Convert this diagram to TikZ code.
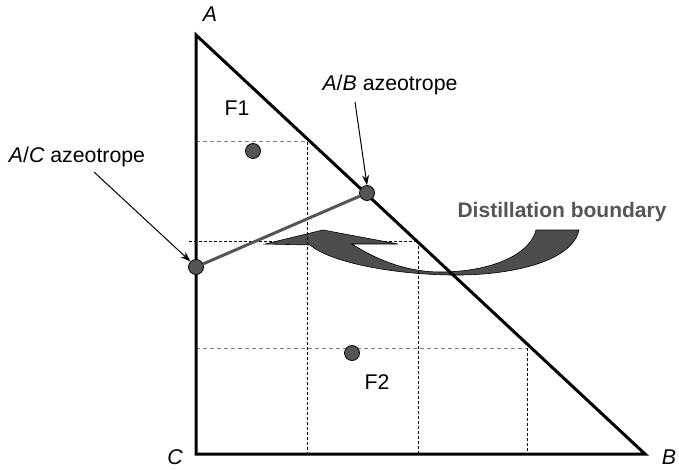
\documentclass[tikz,border=0pt]{standalone}
\usepackage{fontspec}
\setmainfont{Liberation Sans}
\usetikzlibrary{arrows.meta}
\definecolor{dotgray}{HTML}{555555}
\definecolor{linegray}{HTML}{555555}
\definecolor{dashgray}{HTML}{808080}
\definecolor{shapegray}{HTML}{4D4D4D}
\tikzset{
  lbl/.style={font=\fontsize{21.3}{25}\selectfont, inner sep=0pt},
  bdash/.style={black, line width=1pt, dash pattern=on 3pt off 2pt},
  gdash/.style={dashgray, line width=1pt, dash pattern=on 4pt off 3pt},
  edge/.style={black, line width=3pt, line join=miter},
  dot/.style={circle, fill=dotgray, draw=black, line width=0.8pt, minimum size=15pt, inner sep=0pt},
  pointer/.style={black, line width=1pt, -{Stealth[length=10pt,width=7pt]}},
}
\begin{document}
\begin{tikzpicture}[x=1pt, y=-1pt]
\useasboundingbox (0,0) rectangle (679,470);
% vertices
\coordinate (A) at (196,35);
\coordinate (B) at (645,454);
\coordinate (C) at (196,454);
% horizontal dashed lines
\draw[gdash] (196,142) -- (307,142);
\draw[bdash] (189,241) -- (418,241);
\draw[gdash] (196,348) -- (527,348);
% distillation boundary arrow shape
\draw[fill=shapegray, draw=black, line width=0.6pt]
  (265,244) -- (323,230) -- (398,244) -- (352,244)
  .. controls (380,262) and (410,272) .. (440,272)
  .. controls (490,272) and (530,255) .. (536,230)
  -- (579,230)
  .. controls (572,262) and (510,276) .. (450,275)
  .. controls (390,274) and (330,262) .. (310,245)
  -- cycle;
% vertical dashed lines
\draw[bdash] (307,142) -- (307,454);
\draw[bdash] (418,241) -- (418,454);
\draw[bdash] (527,348) -- (527,454);
% triangle
\draw[edge] (A) -- (C) -- (B) -- cycle;
% azeotropes
\node[dot] (ac) at (196,267) {};
\node[dot] (ab) at (367,193) {};
\draw[linegray, line width=3pt] (ac) -- (ab);
% feeds
\node[dot] (f1dot) at (253,151) {};
\node[dot] (f2dot) at (352,353) {};
% labels
\node[lbl] (la) at (210,14) {\itshape A};
\node[lbl] (lc) at (175,457) {\itshape C};
\node[lbl] (lb) at (669,457) {\itshape B};
\node[lbl] (f1) at (237,108) {F1};
\node[lbl] (f2) at (377,382) {F2};
\node[lbl] (acl) at (77,157) {\itshape A\/\upshape/\itshape C\upshape{} azeotrope};
\node[lbl] (abl) at (390,85) {\itshape A\/\upshape/\itshape B\upshape{} azeotrope};
\node[lbl, font=\fontsize{21}{25}\selectfont\bfseries, text=linegray] (db) at (562,212) {Distillation boundary};
% pointers
\draw[pointer] (94,172) -- (ac.north west);
\draw[pointer] (355,102) -- (ab.north);
\end{tikzpicture}
\end{document}
